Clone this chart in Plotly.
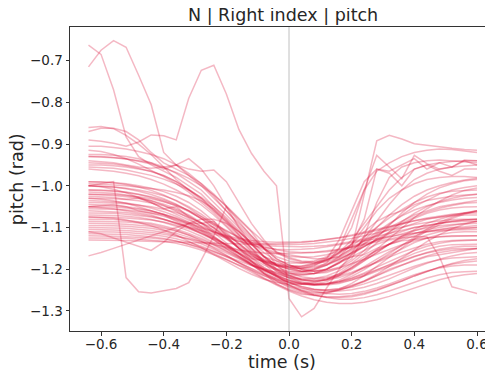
import plotly.graph_objects as go

# time grid (s)
time_s = [-0.64, -0.60, -0.56, -0.52, -0.48, -0.44, -0.40, -0.36, -0.32, -0.28, -0.24, -0.20,
          -0.16, -0.12, -0.08, -0.04, 0.00, 0.04, 0.08, 0.12, 0.16, 0.20, 0.24, 0.28,
          0.32, 0.36, 0.40, 0.44, 0.48, 0.52, 0.56, 0.60]

# pitch (rad), one list per trial
trial_A = [-0.715,-0.675,-0.652,-0.668,-0.735,-0.805,-0.920,-0.950,-0.975,-1.000,-1.030,-1.060,-1.090,-1.120,-1.150,-1.175,-1.190,-1.200,-1.205,-1.200,-1.185,-1.165,-1.145,-1.130,-1.115,-1.100,-1.090,-1.080,-1.075,-1.070,-1.065,-1.060]
trial_B = [-0.663,-0.685,-0.770,-0.883,-0.930,-0.950,-0.965,-0.980,-1.000,-1.020,-1.050,-1.080,-1.110,-1.140,-1.170,-1.200,-1.220,-1.230,-1.235,-1.230,-1.215,-1.195,-1.175,-1.155,-1.140,-1.125,-1.115,-1.105,-1.100,-1.095,-1.090,-1.085]
trial_C = [-0.890,-0.893,-0.898,-0.905,-0.895,-0.878,-0.880,-0.890,-0.790,-0.723,-0.711,-0.780,-0.865,-0.922,-0.965,-1.000,-1.270,-1.314,-1.294,-1.245,-1.200,-1.165,-1.140,-1.120,-1.100,-1.085,-1.070,-1.060,-1.050,-1.045,-1.040,-1.035]
trial_D = [-1.000,-0.995,-0.990,-1.220,-1.254,-1.257,-1.252,-1.246,-1.232,-1.178,-1.120,-1.050,-1.080,-1.110,-1.150,-1.190,-1.215,-1.225,-1.230,-1.225,-1.210,-1.190,-1.170,-1.155,-1.140,-1.130,-1.120,-1.110,-1.105,-1.100,-1.098,-1.095]
trial_E = [-1.168,-1.160,-1.150,-1.140,-1.130,-1.120,-1.110,-1.100,-1.090,-1.090,-1.100,-1.120,-1.150,-1.180,-1.210,-1.235,-1.250,-1.260,-1.262,-1.258,-1.250,-1.240,-1.230,-1.215,-1.200,-1.190,-1.180,-1.170,-1.165,-1.160,-1.155,-1.150]
trial_F = [-1.110,-1.115,-1.125,-1.135,-1.145,-1.155,-1.135,-1.110,-1.090,-1.080,-1.080,-1.090,-1.110,-1.140,-1.170,-1.190,-1.200,-1.205,-1.200,-1.190,-1.175,-1.160,-1.145,-1.130,-1.120,-1.110,-1.100,-1.095,-1.090,-1.085,-1.082,-1.080]
trial_G = [-0.930,-0.930,-0.932,-0.935,-0.940,-0.945,-0.955,-0.970,-0.990,-1.010,-1.040,-1.070,-1.100,-1.130,-1.150,-1.160,-1.165,-1.170,-1.175,-1.175,-1.170,-1.150,-1.020,-0.892,-0.879,-0.888,-0.899,-0.903,-0.907,-0.910,-0.913,-0.915]
trial_H = [-0.950,-0.950,-0.952,-0.955,-0.960,-0.965,-0.975,-0.990,-1.010,-1.030,-1.060,-1.090,-1.120,-1.150,-1.170,-1.180,-1.185,-1.185,-1.180,-1.170,-1.150,-1.100,-1.010,-0.927,-0.955,-0.983,-0.927,-0.947,-0.960,-0.955,-0.940,-0.950]
trial_I = [-1.050,-1.052,-1.055,-1.060,-1.065,-1.070,-1.080,-1.090,-1.100,-1.115,-1.130,-1.150,-1.170,-1.190,-1.200,-1.210,-1.215,-1.215,-1.210,-1.200,-1.185,-1.170,-1.155,-1.140,-1.130,-1.125,-1.122,-1.122,-1.170,-1.242,-1.250,-1.258]
trial_U1 = [-0.905,-0.905,-0.908,-0.912,-0.918,-0.925,-0.935,-0.950,-0.970,-0.995,-1.025,-1.060,-1.095,-1.125,-1.150,-1.170,-1.180,-1.185,-1.185,-1.178,-1.160,-1.130,-1.090,-1.050,-1.010,-0.980,-0.960,-0.950,-0.945,-0.942,-0.940,-0.940]
trial_U2 = [-0.915,-0.918,-0.925,-0.935,-0.948,-0.962,-0.978,-0.995,-1.015,-1.040,-1.065,-1.095,-1.125,-1.155,-1.180,-1.200,-1.215,-1.225,-1.228,-1.225,-1.215,-1.200,-1.180,-1.160,-1.140,-1.120,-1.105,-1.090,-1.080,-1.072,-1.066,-1.062]
trial_U3 = [-0.925,-0.925,-0.927,-0.930,-0.935,-0.945,-0.960,-0.950,-0.935,-0.960,-1.000,-1.050,-1.100,-1.140,-1.170,-1.190,-1.200,-1.205,-1.205,-1.200,-1.185,-1.160,-1.125,-1.085,-1.045,-1.010,-0.985,-0.970,-0.960,-0.955,-0.952,-0.950]
trial_U4 = [-0.930,-0.931,-0.933,-0.936,-0.941,-0.948,-0.957,-0.968,-0.982,-1.000,-1.022,-1.048,-1.078,-1.108,-1.135,-1.158,-1.172,-1.180,-1.182,-1.178,-1.168,-1.152,-1.132,-1.110,-1.090,-1.072,-1.058,-1.048,-1.040,-1.034,-1.030,-1.028]
trial_U5 = [-0.940,-0.942,-0.945,-0.950,-0.955,-0.958,-0.955,-0.950,-0.960,-0.965,-0.962,-0.990,-1.040,-1.090,-1.130,-1.160,-1.175,-1.182,-1.185,-1.182,-1.172,-1.155,-1.130,-1.100,-1.070,-1.045,-1.025,-1.010,-1.000,-0.992,-0.986,-0.982]
trial_U6 = [-0.945,-0.946,-0.948,-0.952,-0.958,-0.966,-0.976,-0.990,-1.008,-1.030,-1.056,-1.086,-1.118,-1.150,-1.180,-1.205,-1.222,-1.232,-1.236,-1.234,-1.226,-1.212,-1.195,-1.176,-1.158,-1.142,-1.128,-1.118,-1.110,-1.105,-1.102,-1.100]
trial_U7 = [-0.860,-0.858,-0.863,-0.879,-0.900,-0.925,-0.955,-0.985,-1.010,-1.035,-1.060,-1.085,-1.110,-1.135,-1.160,-1.180,-1.195,-1.205,-1.210,-1.208,-1.198,-1.180,-1.155,-1.125,-1.095,-1.065,-1.040,-1.020,-1.005,-0.995,-0.988,-0.985]
trial_U8 = [-0.870,-0.862,-0.862,-0.870,-0.890,-0.920,-0.945,-0.960,-0.975,-0.995,-1.020,-1.050,-1.085,-1.120,-1.150,-1.175,-1.190,-1.200,-1.205,-1.203,-1.195,-1.175,-1.120,-1.040,-0.980,-0.955,-0.945,-0.940,-0.938,-0.940,-0.942,-0.945]
trial_U9 = [-0.955,-0.956,-0.958,-0.962,-0.968,-0.975,-0.984,-0.996,-1.010,-1.028,-1.050,-1.076,-1.106,-1.138,-1.168,-1.192,-1.208,-1.218,-1.222,-1.220,-1.212,-1.198,-1.180,-1.160,-1.140,-1.122,-1.108,-1.098,-1.090,-1.085,-1.082,-1.080]
trial_U10 = [-0.960,-0.962,-0.965,-0.970,-0.976,-0.985,-0.996,-1.010,-1.026,-1.046,-1.070,-1.098,-1.128,-1.158,-1.184,-1.204,-1.216,-1.222,-1.222,-1.216,-1.204,-1.186,-1.162,-1.136,-1.110,-1.086,-1.066,-1.050,-1.038,-1.030,-1.024,-1.020]
trial_R1 = [-0.990,-0.990,-0.992,-0.995,-1.000,-1.006,-1.014,-1.025,-1.040,-1.060,-1.085,-1.112,-1.140,-1.165,-1.185,-1.198,-1.205,-1.206,-1.200,-1.185,-1.150,-1.080,-1.010,-0.965,-0.945,-0.930,-0.920,-0.915,-0.912,-0.913,-0.916,-0.920]
trial_R2 = [-1.000,-1.001,-1.003,-1.006,-1.010,-1.016,-1.024,-1.035,-1.050,-1.068,-1.090,-1.115,-1.140,-1.162,-1.180,-1.192,-1.198,-1.198,-1.192,-1.175,-1.130,-1.060,-0.990,-0.960,-0.965,-0.950,-0.935,-0.960,-0.945,-0.955,-0.938,-0.940]
trial_R3 = [-1.010,-1.010,-1.012,-1.015,-1.020,-1.026,-1.034,-1.045,-1.060,-1.078,-1.100,-1.125,-1.150,-1.172,-1.190,-1.202,-1.208,-1.208,-1.202,-1.190,-1.170,-1.140,-1.100,-1.060,-1.030,-1.010,-0.995,-0.985,-0.980,-0.978,-0.978,-0.980]
trial_R4 = [-1.020,-1.021,-1.023,-1.026,-1.030,-1.036,-1.044,-1.055,-1.070,-1.088,-1.108,-1.130,-1.150,-1.168,-1.182,-1.190,-1.194,-1.192,-1.186,-1.172,-1.160,-1.140,-1.080,-0.960,-0.970,-1.000,-0.960,-0.950,-0.965,-0.975,-0.960,-0.960]
trial_M1 = [-0.990,-0.991,-0.993,-0.997,-1.003,-1.011,-1.022,-1.036,-1.053,-1.073,-1.095,-1.118,-1.140,-1.160,-1.176,-1.188,-1.195,-1.198,-1.197,-1.190,-1.178,-1.160,-1.138,-1.115,-1.092,-1.070,-1.050,-1.034,-1.020,-1.010,-1.004,-1.000]
trial_M2 = [-1.000,-1.001,-1.003,-1.007,-1.013,-1.021,-1.031,-1.044,-1.060,-1.079,-1.101,-1.125,-1.150,-1.174,-1.196,-1.214,-1.227,-1.235,-1.238,-1.236,-1.229,-1.217,-1.201,-1.182,-1.162,-1.142,-1.122,-1.104,-1.088,-1.075,-1.066,-1.060]
trial_M3 = [-1.010,-1.011,-1.013,-1.016,-1.021,-1.028,-1.037,-1.048,-1.062,-1.078,-1.094,-1.110,-1.124,-1.136,-1.146,-1.153,-1.158,-1.160,-1.160,-1.158,-1.154,-1.148,-1.141,-1.134,-1.127,-1.120,-1.114,-1.109,-1.105,-1.102,-1.101,-1.100]
trial_M4 = [-1.015,-1.016,-1.018,-1.022,-1.028,-1.036,-1.047,-1.061,-1.078,-1.098,-1.120,-1.144,-1.168,-1.190,-1.210,-1.226,-1.238,-1.246,-1.250,-1.250,-1.246,-1.238,-1.228,-1.216,-1.203,-1.190,-1.178,-1.168,-1.160,-1.155,-1.152,-1.150]
trial_M5 = [-1.020,-1.020,-1.021,-1.023,-1.026,-1.031,-1.038,-1.047,-1.059,-1.074,-1.090,-1.107,-1.124,-1.140,-1.153,-1.163,-1.169,-1.171,-1.170,-1.165,-1.157,-1.146,-1.133,-1.118,-1.103,-1.088,-1.075,-1.063,-1.054,-1.047,-1.042,-1.040]
trial_M6 = [-1.025,-1.026,-1.028,-1.032,-1.030,-1.040,-1.055,-1.050,-1.075,-1.090,-1.085,-1.120,-1.150,-1.165,-1.185,-1.200,-1.210,-1.212,-1.210,-1.200,-1.182,-1.170,-1.165,-1.150,-1.140,-1.132,-1.128,-1.125,-1.122,-1.121,-1.120,-1.120]
trial_M7 = [-1.030,-1.030,-1.031,-1.033,-1.036,-1.041,-1.048,-1.058,-1.072,-1.090,-1.112,-1.137,-1.163,-1.188,-1.210,-1.228,-1.241,-1.250,-1.255,-1.255,-1.250,-1.241,-1.228,-1.212,-1.193,-1.173,-1.153,-1.134,-1.117,-1.103,-1.092,-1.085]
trial_M8 = [-1.035,-1.036,-1.038,-1.041,-1.046,-1.053,-1.062,-1.073,-1.087,-1.103,-1.121,-1.141,-1.162,-1.182,-1.200,-1.215,-1.226,-1.233,-1.236,-1.235,-1.230,-1.221,-1.209,-1.195,-1.181,-1.167,-1.155,-1.145,-1.138,-1.133,-1.131,-1.130]
trial_M9 = [-1.040,-1.040,-1.041,-1.043,-1.046,-1.050,-1.056,-1.064,-1.075,-1.089,-1.106,-1.125,-1.145,-1.163,-1.178,-1.188,-1.193,-1.193,-1.188,-1.178,-1.163,-1.144,-1.122,-1.099,-1.077,-1.057,-1.040,-1.027,-1.018,-1.013,-1.011,-1.010]
trial_M10 = [-1.045,-1.046,-1.047,-1.050,-1.054,-1.060,-1.068,-1.078,-1.091,-1.106,-1.123,-1.142,-1.162,-1.182,-1.201,-1.218,-1.232,-1.242,-1.248,-1.250,-1.248,-1.243,-1.235,-1.225,-1.214,-1.203,-1.193,-1.184,-1.177,-1.173,-1.171,-1.170]
trial_M11 = [-1.050,-1.050,-1.051,-1.053,-1.056,-1.061,-1.068,-1.077,-1.088,-1.099,-1.110,-1.119,-1.126,-1.131,-1.134,-1.135,-1.135,-1.134,-1.132,-1.129,-1.125,-1.120,-1.114,-1.107,-1.099,-1.091,-1.084,-1.077,-1.072,-1.068,-1.066,-1.065]
trial_M12 = [-1.055,-1.055,-1.056,-1.058,-1.061,-1.066,-1.073,-1.082,-1.094,-1.108,-1.124,-1.142,-1.161,-1.179,-1.196,-1.210,-1.220,-1.226,-1.228,-1.226,-1.220,-1.210,-1.197,-1.182,-1.166,-1.150,-1.136,-1.125,-1.117,-1.112,-1.110,-1.110]
trial_M13 = [-1.060,-1.061,-1.062,-1.064,-1.068,-1.073,-1.080,-1.089,-1.100,-1.113,-1.128,-1.145,-1.163,-1.182,-1.200,-1.217,-1.232,-1.244,-1.253,-1.258,-1.260,-1.258,-1.253,-1.245,-1.235,-1.224,-1.213,-1.204,-1.197,-1.192,-1.190,-1.190]
trial_M14 = [-1.065,-1.065,-1.066,-1.068,-1.071,-1.075,-1.081,-1.089,-1.098,-1.107,-1.116,-1.125,-1.133,-1.139,-1.143,-1.145,-1.146,-1.146,-1.145,-1.143,-1.139,-1.134,-1.128,-1.121,-1.114,-1.107,-1.100,-1.095,-1.090,-1.087,-1.085,-1.085]
trial_M15 = [-1.070,-1.070,-1.071,-1.073,-1.076,-1.081,-1.088,-1.097,-1.108,-1.121,-1.136,-1.152,-1.169,-1.186,-1.202,-1.216,-1.227,-1.234,-1.238,-1.238,-1.234,-1.226,-1.215,-1.202,-1.188,-1.174,-1.162,-1.152,-1.145,-1.141,-1.140,-1.140]
trial_M16 = [-1.075,-1.075,-1.076,-1.077,-1.079,-1.082,-1.087,-1.094,-1.103,-1.114,-1.127,-1.141,-1.156,-1.170,-1.182,-1.191,-1.196,-1.197,-1.194,-1.187,-1.176,-1.162,-1.146,-1.128,-1.110,-1.093,-1.078,-1.066,-1.058,-1.053,-1.051,-1.050]
trial_M17 = [-1.080,-1.080,-1.081,-1.083,-1.086,-1.090,-1.096,-1.104,-1.114,-1.126,-1.140,-1.155,-1.171,-1.187,-1.203,-1.218,-1.231,-1.241,-1.248,-1.252,-1.252,-1.249,-1.243,-1.234,-1.223,-1.210,-1.197,-1.186,-1.176,-1.168,-1.162,-1.160]
trial_M18 = [-1.085,-1.085,-1.086,-1.087,-1.089,-1.093,-1.099,-1.107,-1.118,-1.132,-1.148,-1.166,-1.185,-1.204,-1.221,-1.236,-1.248,-1.257,-1.263,-1.266,-1.266,-1.263,-1.257,-1.249,-1.239,-1.228,-1.216,-1.205,-1.195,-1.186,-1.179,-1.175]
trial_M19 = [-1.090,-1.090,-1.091,-1.092,-1.094,-1.097,-1.102,-1.109,-1.118,-1.129,-1.142,-1.157,-1.173,-1.190,-1.207,-1.223,-1.238,-1.251,-1.261,-1.268,-1.272,-1.272,-1.268,-1.261,-1.252,-1.242,-1.231,-1.221,-1.213,-1.208,-1.206,-1.205]
trial_M20 = [-1.095,-1.095,-1.096,-1.097,-1.099,-1.102,-1.107,-1.114,-1.123,-1.134,-1.147,-1.161,-1.176,-1.190,-1.203,-1.213,-1.220,-1.224,-1.225,-1.222,-1.216,-1.207,-1.196,-1.184,-1.171,-1.159,-1.149,-1.140,-1.134,-1.131,-1.130,-1.130]
trial_M21 = [-1.100,-1.100,-1.101,-1.102,-1.104,-1.107,-1.112,-1.119,-1.128,-1.139,-1.152,-1.167,-1.183,-1.199,-1.215,-1.230,-1.243,-1.254,-1.262,-1.267,-1.268,-1.266,-1.260,-1.251,-1.240,-1.228,-1.216,-1.205,-1.195,-1.188,-1.183,-1.180]
trial_M22 = [-1.105,-1.105,-1.106,-1.107,-1.109,-1.112,-1.116,-1.121,-1.127,-1.134,-1.141,-1.148,-1.154,-1.158,-1.161,-1.162,-1.162,-1.161,-1.159,-1.156,-1.152,-1.146,-1.139,-1.131,-1.123,-1.115,-1.107,-1.101,-1.096,-1.093,-1.091,-1.090]
trial_M23 = [-1.110,-1.110,-1.111,-1.112,-1.114,-1.117,-1.121,-1.127,-1.135,-1.145,-1.157,-1.170,-1.184,-1.198,-1.211,-1.222,-1.230,-1.235,-1.237,-1.236,-1.232,-1.225,-1.216,-1.205,-1.193,-1.181,-1.170,-1.160,-1.152,-1.147,-1.145,-1.145]
trial_M24 = [-1.115,-1.115,-1.116,-1.117,-1.119,-1.122,-1.126,-1.132,-1.140,-1.150,-1.162,-1.176,-1.191,-1.207,-1.223,-1.238,-1.252,-1.264,-1.273,-1.279,-1.282,-1.282,-1.279,-1.273,-1.265,-1.255,-1.244,-1.234,-1.225,-1.218,-1.213,-1.210]
trial_M25 = [-1.120,-1.120,-1.121,-1.122,-1.123,-1.125,-1.128,-1.133,-1.140,-1.148,-1.158,-1.169,-1.180,-1.191,-1.200,-1.207,-1.211,-1.212,-1.210,-1.205,-1.197,-1.187,-1.176,-1.164,-1.152,-1.141,-1.132,-1.126,-1.122,-1.120,-1.120,-1.120]
trial_M26 = [-1.125,-1.125,-1.125,-1.126,-1.128,-1.130,-1.133,-1.138,-1.145,-1.154,-1.165,-1.177,-1.190,-1.203,-1.215,-1.225,-1.232,-1.236,-1.237,-1.235,-1.230,-1.222,-1.212,-1.201,-1.190,-1.179,-1.169,-1.161,-1.155,-1.151,-1.150,-1.150]
trial_M27 = [-1.130,-1.130,-1.130,-1.131,-1.132,-1.133,-1.134,-1.135,-1.136,-1.137,-1.138,-1.139,-1.140,-1.140,-1.140,-1.139,-1.138,-1.136,-1.133,-1.129,-1.124,-1.118,-1.111,-1.104,-1.097,-1.090,-1.084,-1.079,-1.075,-1.072,-1.070,-1.070]
trial_M28 = [-1.000,-1.002,-1.008,-1.017,-1.028,-1.040,-1.054,-1.068,-1.082,-1.096,-1.110,-1.122,-1.133,-1.142,-1.148,-1.152,-1.153,-1.152,-1.150,-1.146,-1.141,-1.136,-1.131,-1.126,-1.121,-1.117,-1.113,-1.110,-1.108,-1.106,-1.105,-1.105]
trial_M29 = [-1.030,-1.032,-1.036,-1.042,-1.050,-1.059,-1.069,-1.080,-1.091,-1.102,-1.112,-1.121,-1.129,-1.135,-1.139,-1.141,-1.141,-1.140,-1.138,-1.135,-1.131,-1.126,-1.120,-1.113,-1.106,-1.099,-1.093,-1.088,-1.084,-1.081,-1.080,-1.080]
trial_M30 = [-1.050,-1.048,-1.045,-1.050,-1.060,-1.065,-1.070,-1.085,-1.100,-1.110,-1.130,-1.150,-1.160,-1.175,-1.180,-1.185,-1.190,-1.195,-1.190,-1.180,-1.160,-1.140,-1.110,-1.085,-1.070,-1.060,-1.045,-1.035,-1.030,-1.025,-1.022,-1.020]
trial_M31 = [-0.995,-0.996,-0.998,-1.000,-1.003,-1.006,-1.010,-1.016,-1.024,-1.036,-1.055,-1.082,-1.115,-1.150,-1.185,-1.215,-1.238,-1.252,-1.258,-1.256,-1.248,-1.234,-1.215,-1.193,-1.170,-1.148,-1.127,-1.108,-1.092,-1.078,-1.068,-1.060]
trial_M32 = [-1.075,-1.076,-1.078,-1.082,-1.088,-1.096,-1.106,-1.118,-1.132,-1.148,-1.165,-1.182,-1.198,-1.212,-1.224,-1.232,-1.236,-1.236,-1.232,-1.224,-1.212,-1.196,-1.176,-1.152,-1.126,-1.100,-1.076,-1.055,-1.037,-1.022,-1.011,-1.005]

trials = [trial_A, trial_B, trial_C, trial_D, trial_E, trial_F, trial_G, trial_H, trial_I,
          trial_U1, trial_U2, trial_U3, trial_U4, trial_U5, trial_U6, trial_U7, trial_U8, trial_U9, trial_U10,
          trial_R1, trial_R2, trial_R3, trial_R4,
          trial_M1, trial_M2, trial_M3, trial_M4, trial_M5, trial_M6, trial_M7, trial_M8, trial_M9, trial_M10,
          trial_M11, trial_M12, trial_M13, trial_M14, trial_M15, trial_M16, trial_M17, trial_M18, trial_M19,
          trial_M20, trial_M21, trial_M22, trial_M23, trial_M24, trial_M25, trial_M26, trial_M27, trial_M28,
          trial_M29, trial_M30, trial_M31, trial_M32]

x_ticks = [-0.6, -0.4, -0.2, 0.0, 0.2, 0.4, 0.6]
x_tick_labels = ["\u22120.6", "\u22120.4", "\u22120.2", "0.0", "0.2", "0.4", "0.6"]
y_ticks = [-1.3, -1.2, -1.1, -1.0, -0.9, -0.8, -0.7]
y_tick_labels = ["\u22121.3", "\u22121.2", "\u22121.1", "\u22121.0", "\u22120.9", "\u22120.8", "\u22120.7"]

FONT = "DejaVu Sans"
fig = go.Figure()
for tr in trials:
    fig.add_trace(go.Scatter(x=time_s, y=tr, mode="lines",
                             line=dict(color="rgba(220,20,60,0.3)", width=1.5),
                             hoverinfo="skip", showlegend=False))

fig.add_shape(type="line", xref="x", yref="paper", x0=0, x1=0, y0=0, y1=1,
              line=dict(color="rgba(150,150,150,0.4)", width=1.5), layer="above")

axis_common = dict(showgrid=False, zeroline=False, showline=True, linecolor="#333333",
                   linewidth=1, ticks="outside", ticklen=3.5, tickwidth=1, tickcolor="#333333",
                   tickfont=dict(family=FONT, size=13.5, color="#262626"), automargin=False)
fig.update_xaxes(range=[-0.699, 0.651], tickvals=x_ticks, ticktext=x_tick_labels,
                 mirror=True, ticklabelstandoff=-3, **axis_common)
fig.update_yaxes(range=[-1.348, -0.6194], tickvals=y_ticks, ticktext=y_tick_labels,
                 mirror=False, **axis_common)

# page body has an 8px margin: the figure is sized so that it fills the 493x370 window
fig.update_layout(
    width=485, height=362,
    margin=dict(l=62, r=0, t=19, b=39, autoexpand=False),
    paper_bgcolor="white", plot_bgcolor="white",
    font=dict(family=FONT, color="#262626"),
    annotations=[
        dict(text="N | Right index | pitch", xref="paper", yref="paper", x=0.5035, y=1.0385,
             xanchor="center", yanchor="middle", showarrow=False,
             font=dict(family=FONT, size=17.5, color="#262626")),
        dict(text="time (s)", xref="paper", yref="paper", x=0.5, y=-0.101,
             xanchor="center", yanchor="middle", showarrow=False,
             font=dict(family=FONT, size=17.5, color="#262626")),
        dict(text="pitch (rad)", xref="paper", yref="paper", x=-0.125, y=0.5,
             xanchor="center", yanchor="middle", showarrow=False, textangle=-90,
             font=dict(family=FONT, size=17.5, color="#262626")),
    ],
)

fig.write_html("out.html")
